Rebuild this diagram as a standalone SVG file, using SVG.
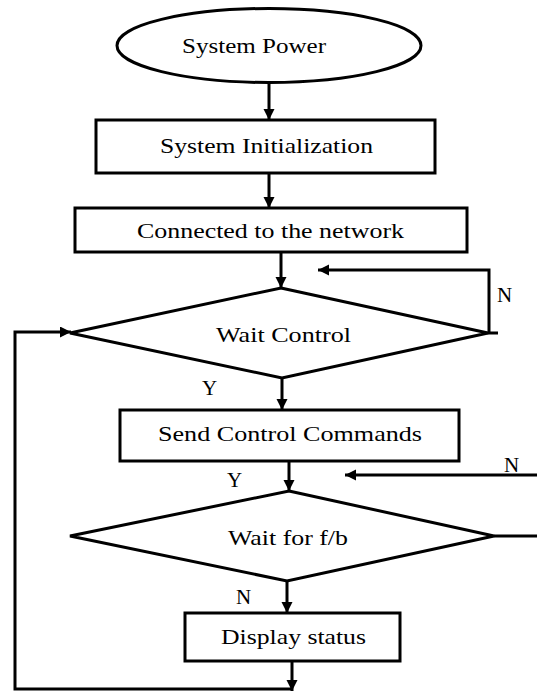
<svg xmlns="http://www.w3.org/2000/svg" width="537" height="694" viewBox="0 0 537 694">
<style>
  .shape { fill: #ffffff; stroke: #000000; stroke-width: 3; }
  .edge { fill: none; stroke: #000000; stroke-width: 3; }
  .lbl { font-family: "Liberation Serif", "Times New Roman", serif; font-size: 21px; fill: #000000; }
</style>
<defs>
  <marker id="ah" markerUnits="userSpaceOnUse" markerWidth="12" markerHeight="12" refX="11" refY="5.5" orient="auto">
    <path d="M0,0 L11,5.5 L0,11 z" fill="#000000"/>
  </marker>
</defs>
<rect x="0" y="0" width="537" height="694" fill="#ffffff"/>

<g id="connectors">
  <line class="edge" x1="269" y1="83" x2="269" y2="120" marker-end="url(#ah)"/>
  <line class="edge" x1="269" y1="173" x2="269" y2="208" marker-end="url(#ah)"/>
  <line class="edge" x1="281" y1="252" x2="281" y2="288" marker-end="url(#ah)"/>
  <polyline class="edge" points="498,333 489,333 489,270 318,270" marker-end="url(#ah)"/>
  <line class="edge" x1="282" y1="378" x2="282" y2="410" marker-end="url(#ah)"/>
  <line class="edge" x1="289" y1="461" x2="289" y2="491" marker-end="url(#ah)"/>
  <line class="edge" x1="494" y1="536" x2="540" y2="536"/>
  <line class="edge" x1="540" y1="475" x2="345" y2="475" marker-end="url(#ah)"/>
  <line class="edge" x1="287" y1="581" x2="287" y2="613" marker-end="url(#ah)"/>
  <line class="edge" x1="292" y1="661" x2="292" y2="691" marker-end="url(#ah)"/>
  <polyline class="edge" points="292,689 15,689 15,332 71,332" marker-end="url(#ah)"/>
</g>

<g id="n_power">
  <ellipse class="shape" cx="269" cy="45.5" rx="152" ry="37"/>
  <text class="lbl" x="182" y="53" textLength="144" lengthAdjust="spacingAndGlyphs">System Power</text>
</g>
<g id="n_init">
  <rect class="shape" x="96" y="120" width="339" height="53"/>
  <text class="lbl" x="160" y="153" textLength="213" lengthAdjust="spacingAndGlyphs">System Initialization</text>
</g>
<g id="n_network">
  <rect class="shape" x="75" y="208" width="392" height="44"/>
  <text class="lbl" x="137" y="238" textLength="267" lengthAdjust="spacingAndGlyphs">Connected to the network</text>
</g>
<g id="n_waitctl">
  <polygon class="shape" points="281,288 488,333 282,378 70,333"/>
  <text class="lbl" x="216" y="342" textLength="135" lengthAdjust="spacingAndGlyphs">Wait Control</text>
</g>
<g id="n_send">
  <rect class="shape" x="120" y="410" width="339" height="51"/>
  <text class="lbl" x="158" y="441" textLength="264" lengthAdjust="spacingAndGlyphs">Send Control Commands</text>
</g>
<g id="n_waitfb">
  <polygon class="shape" points="289,491 494,536 287,581 70,536"/>
  <text class="lbl" x="228" y="545" textLength="120" lengthAdjust="spacingAndGlyphs">Wait for f/b</text>
</g>
<g id="n_display">
  <rect class="shape" x="185" y="613" width="215" height="48"/>
  <text class="lbl" x="221" y="644" textLength="145" lengthAdjust="spacingAndGlyphs">Display status</text>
</g>

<g id="labels">
  <text class="lbl" x="497" y="302">N</text>
  <text class="lbl" x="202" y="395">Y</text>
  <text class="lbl" x="504" y="472">N</text>
  <text class="lbl" x="227" y="487">Y</text>
  <text class="lbl" x="236" y="604">N</text>
</g>
</svg>
